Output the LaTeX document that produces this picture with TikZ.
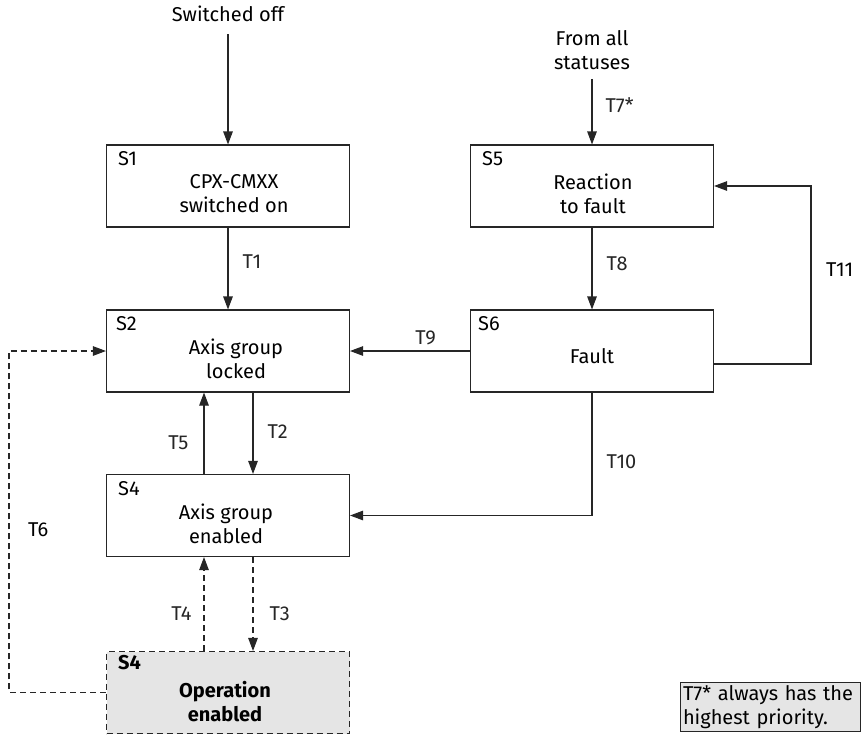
\documentclass[tikz,border=0pt]{standalone}
\usepackage{fontspec}
\setmainfont{Fira Sans}
\usetikzlibrary{arrows.meta,positioning,calc}

\begin{document}
\begin{tikzpicture}[x=1pt, y=-1pt,
  box/.style={rectangle, draw=black!85, line width=1.1pt, minimum width=243pt, minimum height=82pt, inner sep=0pt},
  opbox/.style={box, fill=black!10, dash pattern=on 6pt off 4pt},
  txt/.style={align=center, font=\fontsize{20}{24}\selectfont, inner sep=0pt},
  tag/.style={anchor=north west, inner sep=0pt, font=\fontsize{20}{24}\selectfont},
  lbl/.style={font=\fontsize{20}{24}\selectfont, inner sep=0pt},
  note/.style={rectangle, draw=black!85, line width=1pt, fill=black!10, text width=174pt, inner sep=3pt, align=left, font=\fontsize{20}{24}\selectfont},
  arr/.style={-{Triangle[length=13pt, width=9.5pt]}, line width=1.1pt, black!85},
  darr/.style={arr, dash pattern=on 6pt off 4pt}
]
  \useasboundingbox (0,0) rectangle (862,734);

  % entry points
  \node[txt] (off) at (228,14) {Switched off};
  \node[txt] (all) at (592,50) {From all\\statuses};

  % states
  \node[box] (s1) at (228,186) {};
  \node[box] (s5) at (592,186) {};
  \node[box] (s2) at (228,351) {};
  \node[box] (s6) at (592,351) {};
  \node[box] (s4) at (228,515.5) {};
  \node[opbox] (op) at (228,692.5) {};

  \node[tag] (s1n) at ([shift={(12pt,-7pt)}]s1.north west) {S1};
  \node[tag] (s5n) at ([shift={(12pt,-7pt)}]s5.north west) {S5};
  \node[tag] (s2n) at ([shift={(10pt,-7pt)}]s2.north west) {S2};
  \node[tag] (s6n) at ([shift={(8pt,-7pt)}]s6.north west) {S6};
  \node[tag] (s4n) at ([shift={(12pt,-7pt)}]s4.north west) {S4};
  \node[tag, font=\fontsize{20}{24}\selectfont\bfseries] (opn) at ([shift={(12pt,-4pt)}]op.north west) {S4};

  \node[txt] (s1t) at ([shift={(6pt,-8pt)}]s1.center) {CPX-CMXX\\switched on};
  \node[txt] (s5t) at ([shift={(1pt,-8pt)}]s5.center) {Reaction\\to fault};
  \node[txt] (s2t) at ([shift={(8pt,-8pt)}]s2.center) {Axis group\\locked};
  \node[txt] (s6t) at ([shift={(0pt,-5pt)}]s6.center) {Fault};
  \node[txt] (s4t) at ([shift={(-2pt,-8pt)}]s4.center) {Axis group\\enabled};
  \node[txt, font=\fontsize{20}{24}\selectfont\bfseries] (opt) at ([shift={(-3pt,-9pt)}]op.center) {Operation\\enabled};

  \node[note] (prio) at (770,707) {T7* always has the\\highest priority.};

  % transitions
  \coordinate (c11) at (811,270);
  \coordinate (c6) at (9,530);

  \draw[arr] ([yshift=-12pt]off.south) -- (s1.north);
  \draw[arr] ([yshift=-9pt]all.south) -- node[lbl, right=13pt, pos=0.4] (t7) {T7*} (s5.north);
  \draw[arr] (s1) -- node[lbl, right=14pt, pos=0.42] (t1) {T1} (s2);
  \draw[arr] (s5) -- node[lbl, right=14pt, pos=0.44] (t8) {T8} (s6);
  \draw[arr] (s6) -- node[lbl, above=6pt, pos=0.37] (t9) {T9} (s2);
  \draw[arr] ([yshift=-13pt]s6.east) -| (c11) |- (s5.east);
  \node[lbl, right=15pt] (t11) at (c11) {T11};
  \draw[arr] (s6.south) |- node[lbl, right=14pt, pos=0.28] (t10) {T10} (s4.east);
  \draw[arr] ([xshift=25pt]s2.south) -- node[lbl, right=14pt, pos=0.48] (t2) {T2} ([xshift=25pt]s4.north);
  \draw[arr] ([xshift=-24pt]s4.north) -- node[lbl, left=15pt, pos=0.38] (t5) {T5} ([xshift=-24pt]s2.south);
  \draw[darr] ([xshift=25pt]s4.south) -- node[lbl, right=16pt, pos=0.6] (t3) {T3} ([xshift=25pt]op.north);
  \draw[darr] ([xshift=-24pt]op.north) -- node[lbl, left=12pt, pos=0.4] (t4) {T4} ([xshift=-24pt]s4.south);
  \draw[darr] (op.west) -| (c6) |- (s2.west);
  \node[lbl, right=19pt] (t6) at (c6) {T6};
\end{tikzpicture}
\end{document}
